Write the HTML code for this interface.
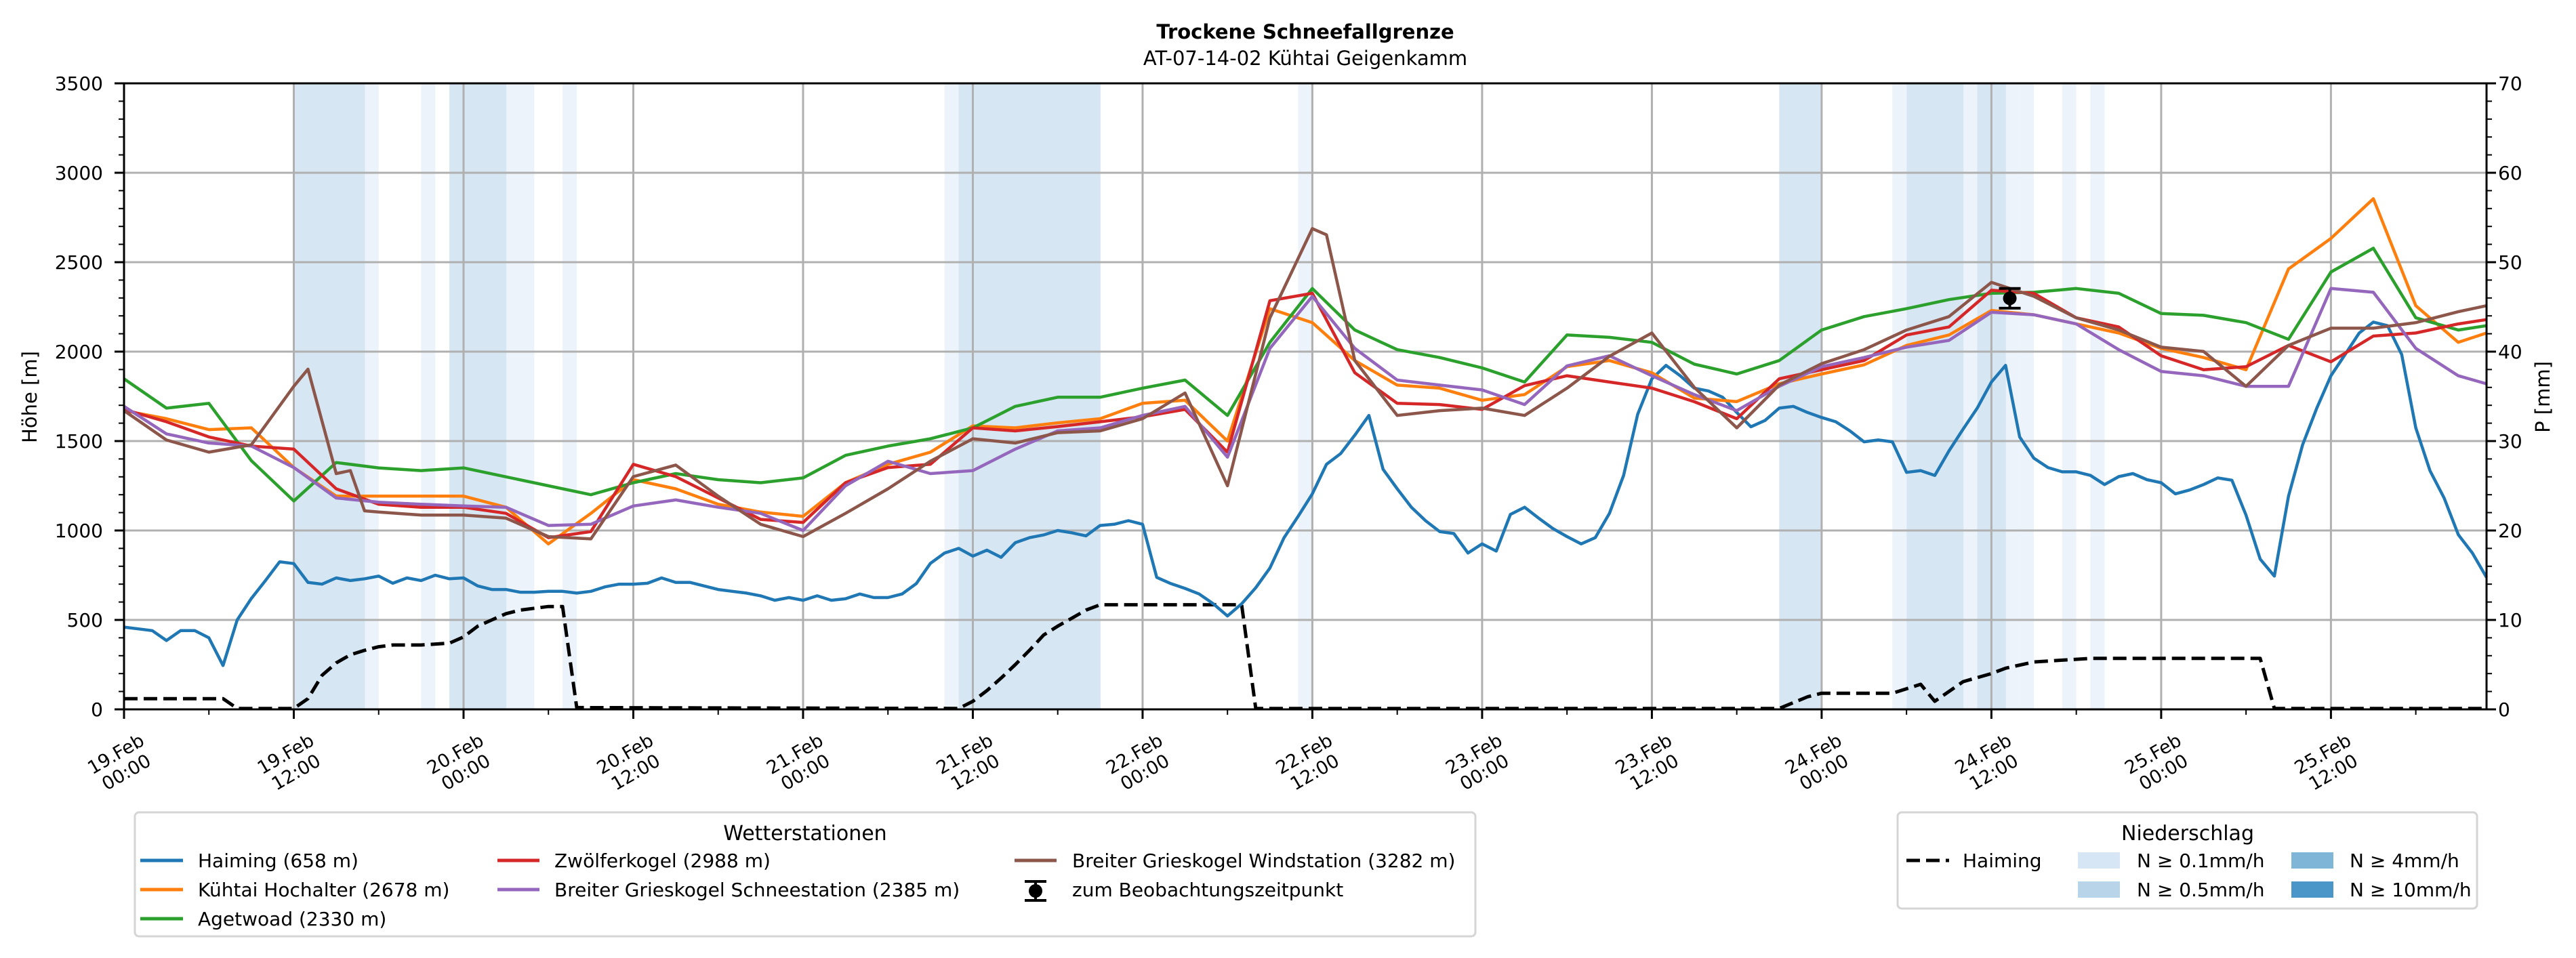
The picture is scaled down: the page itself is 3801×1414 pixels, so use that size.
<!DOCTYPE html>
<html><head><meta charset="utf-8">
<style>
html,body{margin:0;padding:0;background:#fff;}
svg{display:block;font-family:"DejaVu Sans","Liberation Sans",sans-serif;}
</style></head>
<body>
<svg id="chart" width="3801" height="1414" viewBox="0 0 3801 1414" xmlns="http://www.w3.org/2000/svg">
<rect x="0" y="0" width="3801" height="1414" fill="#fff"/>
<g id="bands"></g>
<g id="grid"></g>
<g id="series"></g>
<g id="axes"></g>
<text x="1926" y="57" text-anchor="middle" font-size="29" font-weight="bold">Trockene Schneefallgrenze</text>
<text x="1926" y="96" text-anchor="middle" font-size="29">AT-07-14-02 Kühtai Geigenkamm</text>
<text transform="translate(54,586) rotate(-90)" text-anchor="middle" font-size="29">Höhe [m]</text>
<text transform="translate(3762,586) rotate(-90)" text-anchor="middle" font-size="29">P [mm]</text>

<g>
<rect x="199" y="1199" width="1978" height="183" rx="6" fill="#fff" stroke="#d5d5d5" stroke-width="3"/>
<text x="1188" y="1240" text-anchor="middle" font-size="30">Wetterstationen</text>
<g><line x1="207" y1="1270" x2="270" y2="1270" stroke="#1f77b4" stroke-width="5"/><text x="292" y="1280" font-size="28">Haiming (658 m)</text></g>
<g><line x1="207" y1="1313" x2="270" y2="1313" stroke="#ff7f0e" stroke-width="5"/><text x="292" y="1323" font-size="28">Kühtai Hochalter (2678 m)</text></g>
<g><line x1="207" y1="1356" x2="270" y2="1356" stroke="#2ca02c" stroke-width="5"/><text x="292" y="1366" font-size="28">Agetwoad (2330 m)</text></g>
<g><line x1="734" y1="1270" x2="796" y2="1270" stroke="#d62728" stroke-width="5"/><text x="818" y="1280" font-size="28">Zwölferkogel (2988 m)</text></g>
<g><line x1="734" y1="1313" x2="796" y2="1313" stroke="#9467bd" stroke-width="5"/><text x="818" y="1323" font-size="28">Breiter Grieskogel Schneestation (2385 m)</text></g>
<g><line x1="1497" y1="1270" x2="1559" y2="1270" stroke="#8c564b" stroke-width="5"/><text x="1582" y="1280" font-size="28">Breiter Grieskogel Windstation (3282 m)</text></g>
<g><line x1="1528" y1="1301" x2="1528" y2="1329" stroke="#000" stroke-width="4"/><line x1="1512" y1="1301" x2="1544" y2="1301" stroke="#000" stroke-width="4"/><line x1="1512" y1="1329" x2="1544" y2="1329" stroke="#000" stroke-width="4"/><circle cx="1528" cy="1315" r="10" fill="#000"/><text x="1582" y="1323" font-size="28">zum Beobachtungszeitpunkt</text></g>
</g>

<g>
<rect x="2800" y="1199" width="855" height="142" rx="6" fill="#fff" stroke="#d5d5d5" stroke-width="3"/>
<text x="3228" y="1240" text-anchor="middle" font-size="30">Niederschlag</text>
<g><line x1="2813" y1="1270" x2="2876" y2="1270" stroke="#000" stroke-width="5" stroke-dasharray="20,9"/><text x="2896" y="1280" font-size="28">Haiming</text></g>
<g><rect x="3066" y="1258" width="62" height="24" fill="#d6e6f4"/><text x="3153" y="1280" font-size="28">N ≥ 0.1mm/h</text></g>
<g><rect x="3066" y="1301" width="62" height="24" fill="#b8d4e9"/><text x="3153" y="1323" font-size="28">N ≥ 0.5mm/h</text></g>
<g><rect x="3381" y="1258" width="62" height="24" fill="#7fb6d8"/><text x="3467" y="1280" font-size="28">N ≥ 4mm/h</text></g>
<g><rect x="3381" y="1301" width="62" height="24" fill="#4a96c8"/><text x="3467" y="1323" font-size="28">N ≥ 10mm/h</text></g>
</g>
</svg>
<script>
// ---- data ----
const haimingValues = [460,450,440,385,440,440,400,245,500,620,
720,825,815,710,700,735,720,730,745,705,
735,720,750,730,735,690,670,670,655,655,
660,660,650,660,685,700,700,705,735,710,
710,690,670,660,650,635,610,625,610,635,
610,618,645,625,625,645,703,816,874,900,
857,890,850,932,960,975,1000,987,970,1028,
1035,1055,1035,738,703,676,645,590,522,590,
680,790,960,1080,1205,1370,1430,1533,1643,1342,
1233,1130,1055,994,983,874,925,885,1090,1130,
1069,1011,966,925,960,1096,1308,1650,1848,1923,
1865,1796,1780,1745,1660,1580,1615,1684,1694,1660,
1632,1608,1557,1496,1506,1496,1325,1335,1308,1445,
1567,1684,1830,1923,1523,1404,1352,1328,1328,1308,
1257,1301,1318,1284,1267,1205,1226,1257,1294,1281,
1086,840,745,1192,1479,1684,1865,1984,2104,2165,
2145,1984,1574,1335,1182,977,874,738];
const hours3 = [0,3,6,9,12,15,18,21,24,27,30,33,36,39,42,45,48,51,54,57,60,63,66,69,72,75,78,81,84,87,90,93,96,99,102,105,108,111,114,117,120,123,126,129,132,135,138,141,144,147,150,153,156,159,162,165,167];
const orangeValues = [1670,1625,1564,1574,1352,1192,1192,1192,1192,1130,
925,1096,1284,1233,1147,1103,1079,1267,1370,1438,
1585,1574,1602,1625,1711,1728,1500,2240,2162,1950,
1813,1796,1728,1760,1916,1950,1882,1740,1721,1820,
1875,1926,2035,2093,2230,2206,2155,2104,2018,1967,
1899,2462,2633,2855,2257,2052,2104];
const greenValues = [1848,1684,1711,1390,1165,1380,1350,1335,1350,1300,
1250,1200,1267,1318,1284,1267,1294,1420,1472,1513,
1574,1694,1745,1745,1796,1841,1643,2052,2353,2121,
2011,1967,1909,1830,2093,2080,2052,1930,1875,1950,
2121,2196,2240,2291,2326,2332,2353,2326,2213,2203,
2162,2069,2445,2578,2189,2121,2145];
const redValues = [1677,1608,1523,1472,1455,1233,1147,1130,1130,1096,
960,994,1370,1301,1182,1062,1045,1267,1352,1370,
1574,1557,1581,1608,1636,1677,1438,2285,2326,1882,
1711,1704,1677,1810,1865,1830,1796,1720,1625,1848,
1899,1950,2093,2138,2343,2326,2189,2138,1977,1899,
1916,2035,1943,2087,2104,2155,2179];
const purpleValues = [1694,1540,1489,1472,1352,1182,1158,1147,1137,1130,
1028,1035,1137,1171,1130,1096,1000,1250,1387,1318,
1335,1455,1557,1574,1643,1694,1410,2018,2309,2018,
1841,1813,1786,1704,1920,1977,1865,1760,1670,1806,
1916,1967,2025,2063,2220,2206,2155,2011,1889,1865,
1806,1806,2353,2332,2018,1865,1820];
const brownHours = [0,3,6,9,12,13,15,16,17,18,21,24,27,30,33,36,39,42,45,48,51,54,57,60,63,66,69,72,75,78,81,84,85,87,90,93,96,99,102,105,108,111,114,117,120,123,126,129,132,135,138,141,144,147,150,153,156,159,162,165,167];
const brownValues = [1670,1506,1438,1479,1806,1902,1318,1335,1110,1103,1086,1086,1069,
966,953,1301,1366,1192,1035,966,1096,1233,1387,
1513,1489,1547,1557,1625,1769,1250,2189,2688,2653,1950,
1643,1670,1684,1643,1796,1974,2104,1800,1574,1813,
1933,2011,2121,2196,2387,2309,2189,2121,2025,2001,
1806,2035,2131,2131,2162,2223,2257];
const precipHours = [0,7,8,12,13,14,15,16,17,18,19,21,23,24,25,26,27,28,29,30,31,32,59,60,61,62,63,64,65,66,67,68,69,79,80,117,119,120,125,126,127,128,130,132,133,135,137,139,151,152,167];
const precipValues = [1.2,1.2,0.1,0.1,1.2,3.8,5.2,6.1,6.6,7.0,7.2,7.2,7.4,8.1,9.3,10.0,10.7,11.1,11.3,11.5,11.5,0.2,0.1,0.9,2.1,3.5,5.0,6.6,8.3,9.3,10.2,11.1,11.7,11.7,0.1,0.1,1.4,1.8,1.8,2.3,2.8,0.9,3.1,4.0,4.6,5.3,5.5,5.7,5.7,0.1,0.1];
const bandLightHours = [17,21,27,28,31,58,83,125,130,133,134,137,139];
const bandMediumHours = [12,13,14,15,16,23,24,25,26,59,60,61,62,63,64,65,66,67,68,117,118,119,126,127,128,129,131,132];
const obsHour = [133.3];
const obsValue = [2298];
const obsErr = [55];
const yTicks = [0,500,1000,1500,2000,2500,3000,3500];
const y2Ticks = [0,10,20,30,40,50,60,70];
const xTickDays = ["19.Feb","19.Feb","20.Feb","20.Feb","21.Feb","21.Feb","22.Feb","22.Feb","23.Feb","23.Feb","24.Feb","24.Feb","25.Feb","25.Feb"];
const xTickTimes = ["00:00","12:00","00:00","12:00","00:00","12:00","00:00","12:00","00:00","12:00","00:00","12:00","00:00","12:00"];

// ---- scales ----
const L=183,R=3669,T=123,B=1047;
const HMAX=167;
const X=h=>L+(R-L)*h/HMAX;
const Y=v=>B-(B-T)*v/3500;
const Y2=p=>B-(B-T)*p/70;
const NS="http://www.w3.org/2000/svg";
function mk(tag,attrs,parent){const e=document.createElementNS(NS,tag);for(const k in attrs)e.setAttribute(k,attrs[k]);parent.appendChild(e);return e;}
const gB=document.getElementById('bands'),gG=document.getElementById('grid'),gS=document.getElementById('series'),gA=document.getElementById('axes');

bandLightHours.forEach(h=>{const r=mk('rect',{x:X(h),y:T,width:X(h+1)-X(h),height:B-T,fill:'#edf3fa'},gB);

});
bandMediumHours.forEach(h=>{const r=mk('rect',{x:X(h),y:T,width:X(h+1)-X(h)+0.5,height:B-T,fill:'#d6e6f3'},gB);

});

// grid
yTicks.forEach(v=>{if(v===0||v===3500)return;const l=mk('line',{x1:L,x2:R,y1:Y(v),y2:Y(v),stroke:'#b0b0b0','stroke-width':3},gG);

});
for(let i=1;i<14;i++){const h=i*12;const l=mk('line',{x1:X(h),x2:X(h),y1:T,y2:B,stroke:'#b0b0b0','stroke-width':3},gG);

}

// series
function poly(hs,vs,color,name,scale,dash){const pts=hs.map((h,i)=>X(h).toFixed(1)+','+scale(vs[i]).toFixed(1)).join(' ');
const p=mk('polyline',{points:pts,fill:'none',stroke:color,'stroke-width':dash?5:4.5,'stroke-linejoin':'round'},gS);
if(dash)p.setAttribute('stroke-dasharray','20,9');

}
const hourly=haimingValues.map((_,i)=>i);
poly(precipHours,precipValues,'#000','precip-haiming-line',Y2,true);
poly(hourly,haimingValues,'#1f77b4','haiming-line',Y);
poly(hours3,orangeValues,'#ff7f0e','kuehtai-hochalter-line',Y);
poly(hours3,greenValues,'#2ca02c','agetwoad-line',Y);
poly(hours3,redValues,'#d62728','zwoelferkogel-line',Y);
poly(hours3,purpleValues,'#9467bd','schneestation-line',Y);
poly(brownHours,brownValues,'#8c564b','windstation-line',Y);

// observation
obsHour.forEach((h,i)=>{const g=mk('g',{},gS);


const x=X(h),y1=Y(obsValue[i]+obsErr[i]),y2=Y(obsValue[i]-obsErr[i]);
mk('line',{x1:x,x2:x,y1:y1,y2:y2,stroke:'#000','stroke-width':4},g);
mk('line',{x1:x-16,x2:x+16,y1:y1,y2:y1,stroke:'#000','stroke-width':4},g);
mk('line',{x1:x-16,x2:x+16,y1:y2,y2:y2,stroke:'#000','stroke-width':4},g);
mk('circle',{cx:x,cy:Y(obsValue[i]),r:10,fill:'#000'},g);});

// axes frame
const fr=mk('rect',{x:L,y:T,width:R-L,height:B-T,fill:'none',stroke:'#000','stroke-width':3},gA);


yTicks.forEach(v=>{mk('line',{x1:L-14,x2:L,y1:Y(v),y2:Y(v),stroke:'#000','stroke-width':3},gA);
const t=mk('text',{x:L-31,y:Y(v)+10,'text-anchor':'end','font-size':28},gA);t.textContent=v;

});
for(let v=100;v<3500;v+=100){if(v%500)mk('line',{x1:L-8,x2:L,y1:Y(v),y2:Y(v),stroke:'#000','stroke-width':2},gA);}
y2Ticks.forEach(v=>{mk('line',{x1:R,x2:R+14,y1:Y2(v),y2:Y2(v),stroke:'#000','stroke-width':3},gA);
const t=mk('text',{x:R+17,y:Y2(v)+10,'font-size':28},gA);t.textContent=v;

});
for(let v=2;v<70;v+=2){if(v%10)mk('line',{x1:R,x2:R+8,y1:Y2(v),y2:Y2(v),stroke:'#000','stroke-width':2},gA);}
for(let h=6;h<HMAX;h+=12)mk('line',{x1:X(h),x2:X(h),y1:B,y2:B+8,stroke:'#000','stroke-width':2},gA);
xTickDays.forEach((d,i)=>{const h=i*12,x=X(h);
mk('line',{x1:x,x2:x,y1:B,y2:B+14,stroke:'#000','stroke-width':3},gA);
const g=mk('g',{transform:`translate(${x-4},${B+80}) rotate(-30)`},gA);


const t1=mk('text',{x:0,y:-7,'text-anchor':'middle','font-size':27},g);t1.textContent=d;
const t2=mk('text',{x:0,y:24,'text-anchor':'middle','font-size':27},g);t2.textContent=xTickTimes[i];});
</script>
</body></html>
